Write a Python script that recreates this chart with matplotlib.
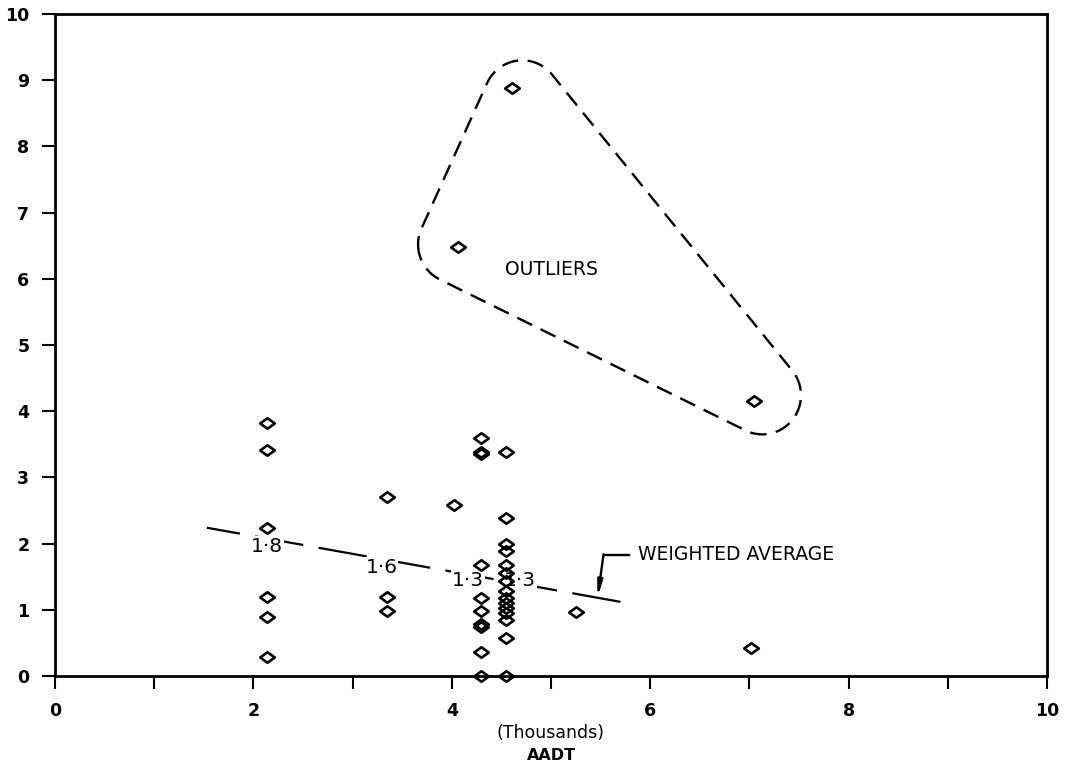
import numpy as np
import matplotlib
matplotlib.use("Agg")
import matplotlib.pyplot as plt
from matplotlib.path import Path

# ---------------- data ----------------
x_vals = ([2.14] * 6 + [3.35] * 3 + [4.02] + [4.29] * 10 + [4.55] * 15
          + [5.25, 7.02])
y_vals = ([3.82, 3.41, 2.23, 1.20, 0.89, 0.29]
          + [2.70, 1.20, 0.98]
          + [2.59]
          + [3.59, 3.38, 3.36, 1.68, 1.18, 0.98, 0.79, 0.74, 0.36, 0.0]
          + [3.38, 2.38, 2.00, 1.89, 1.68, 1.56, 1.44, 1.29, 1.18, 1.11,
             1.03, 0.95, 0.85, 0.58, 0.0]
          + [0.96, 0.43])

outlier_x = [4.06, 4.61, 7.05]
outlier_y = [6.48, 8.88, 4.15]

# weighted average line (end points) and its segment labels
wavg_x = [1.53, 5.70]
wavg_y = [2.24, 1.12]
seg_label_text = ["1·8", "1·6", "1·3", "1·3"]
seg_label_x = [2.14, 3.29, 4.16, 4.69]
seg_label_y = [1.95, 1.64, 1.44, 1.44]

# outline enclosing the outliers (centres of rounded corners)
outline_cx = [4.71, 4.05, 7.13]
outline_cy = [8.71, 6.52, 4.24]
outline_rx = 0.39
outline_ry = 0.59

x_ticks = list(range(0, 11))
x_tick_labels = ["0", "", "2", "", "4", "", "6", "", "8", "", "10"]
y_ticks = list(range(0, 11))
y_tick_labels = [str(v) for v in y_ticks]

# ---------------- figure ----------------
W, H = 1067, 769
fig = plt.figure(figsize=(W / 100, H / 100), dpi=100)
ax = fig.add_axes([55 / W, 1 - 676 / H, (1047 - 55) / W, (676 - 14) / H])
ax.set_xlim(0, 10)
ax.set_ylim(0, 10)

for s in ax.spines.values():
    s.set_linewidth(2.0)
    s.set_color("black")

ax.set_xticks(x_ticks)
ax.set_xticklabels(x_tick_labels)
ax.set_yticks(y_ticks)
ax.set_yticklabels(y_tick_labels)
ax.tick_params(direction="out", length=9.5, width=1.5, pad=9,
               labelsize=12.5, colors="black")
for lab in ax.get_xticklabels() + ax.get_yticklabels():
    lab.set_fontweight("bold")

# diamond marker, wider than tall
diamond = Path([(-1, 0), (0, 0.72), (1, 0), (0, -0.72), (-1, 0)],
               [Path.MOVETO, Path.LINETO, Path.LINETO, Path.LINETO, Path.CLOSEPOLY])

mk = dict(linestyle="none", marker=diamond, markersize=10.5,
          markerfacecolor="none", markeredgecolor="black", markeredgewidth=1.9,
          clip_on=False, zorder=5)
ax.plot(x_vals, y_vals, **mk)
ax.plot(outlier_x, outlier_y, **mk)

# weighted average dashed line (drawn from the right end)
ax.plot(wavg_x[::-1], wavg_y[::-1], color="black", lw=1.6,
        linestyle=(0, (22, 7)), zorder=2, dash_capstyle="butt")
for t, lx, ly in zip(seg_label_text, seg_label_x, seg_label_y):
    ax.text(lx, ly, t, ha="center", va="center", fontsize=14.5,
            color="black", zorder=3,
            bbox=dict(boxstyle="square,pad=0.05", fc="white", ec="none"))

# leader + label for the weighted average
ax.plot([5.53, 5.79], [1.83, 1.83], color="black", lw=1.7, zorder=3)
ax.annotate("", xy=(5.47, 1.19), xytext=(5.53, 1.84),
            arrowprops=dict(arrowstyle="-|>,head_length=0.9,head_width=0.15",
                            color="black", lw=1.7, shrinkA=0, shrinkB=0),
            zorder=3)
ax.text(5.88, 1.83, "WEIGHTED AVERAGE", ha="left", va="center",
        fontsize=13.5, color="black")

# outline around the outliers: convex hull of rounded corners
th = np.linspace(0, 2 * np.pi, 240, endpoint=False)
pts = []
for cx, cy in zip(outline_cx, outline_cy):
    for a in th:
        pts.append((cx + outline_rx * np.cos(a), cy + outline_ry * np.sin(a)))
pts = sorted(set(pts))


def cross(o, a, b):
    return (a[0] - o[0]) * (b[1] - o[1]) - (a[1] - o[1]) * (b[0] - o[0])


lower, upper = [], []
for p in pts:
    while len(lower) >= 2 and cross(lower[-2], lower[-1], p) <= 0:
        lower.pop()
    lower.append(p)
for p in reversed(pts):
    while len(upper) >= 2 and cross(upper[-2], upper[-1], p) <= 0:
        upper.pop()
    upper.append(p)
hull = lower[:-1] + upper[:-1]
hull.append(hull[0])
hx, hy = zip(*hull)
ax.plot(hx, hy, color="black", lw=1.7, linestyle=(0, (7, 4)), zorder=2)

ax.text(5.0, 6.14, "OUTLIERS", ha="center", va="center", fontsize=13.5,
        color="black")

# axis title (two lines)
fig.text(551 / W, 1 - 733 / H, "(Thousands)", ha="center", va="center",
         fontsize=12.5, color="black")
fig.text(551 / W, 1 - 755 / H, "AADT", ha="center", va="center",
         fontsize=11.5, fontweight="bold", color="black")

fig.savefig("out.png", dpi=100, facecolor="white")
